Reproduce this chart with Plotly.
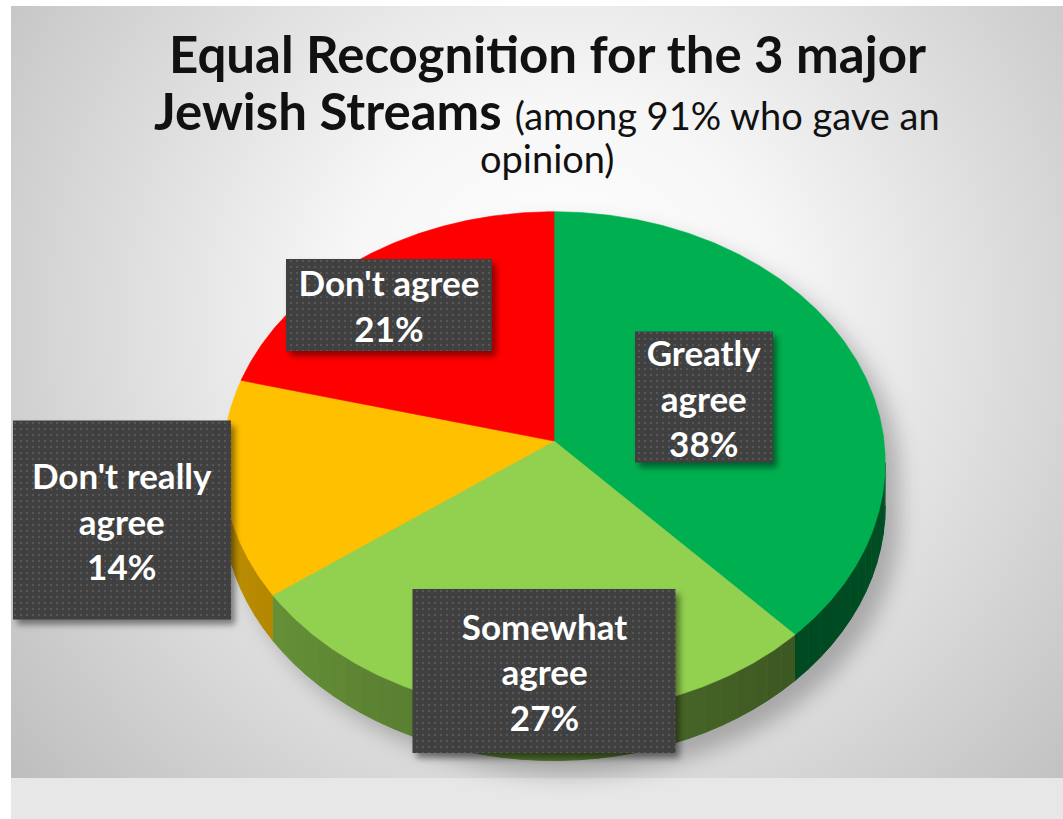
import base64
import numpy as np
import plotly.graph_objects as go

# ---- data -------------------------------------------------------------
categories = ["Greatly agree", "Somewhat agree", "Don't really agree", "Don't agree"]
values = [38, 27, 14, 21]
box_text = ["Greatly<br>agree", "Somewhat<br>agree", "Don't really<br>agree", "Don't agree"]
top_colors = ["#00B050", "#92D050", "#FFC000", "#FF0000"]

title_line1 = "Equal Recognition for the 3 major"
title_line2_bold = "Jewish Streams"
title_line2_rest = "(among 91% who gave an"
title_line3 = "opinion)"

# ---- geometry of the tilted disc (pixel space) ------------------------
W, H = 1063, 819
CX, CY = 554, 441      # projected centre of the disc
RX, RY = 330, 249      # radii of the top face
K = 0.086              # perspective strength (front edge appears larger)
DEPTH = 43             # thickness of the disc

# label boxes: centre x, centre y, width, height
boxes = [(704, 397, 138, 131), (544, 671, 263, 164), (122, 520, 218, 199), (389, 305, 206, 92)]


def rim(theta_deg):
    t = np.radians(np.asarray(theta_deg, dtype=float))
    u, v = np.sin(t), -np.cos(t)
    s = 1.0 / (1.0 - K * v)
    return CX + RX * u * s, CY + RY * v * s, s


def shade(hex_color, f):
    h = hex_color.lstrip("#")
    r, g, b = (int(h[i:i + 2], 16) for i in (0, 2, 4))
    return "#%02x%02x%02x" % (int(r * f), int(g * f), int(b * f))


def side_factor(theta):
    return float(np.interp(theta, [95, 137, 234, 265], [0.45, 0.42, 0.70, 0.78]))


total = float(sum(values))
bounds = np.concatenate([[0.0], np.cumsum(values)]) / total * 360.0
vis_lo = np.degrees(np.arccos(-K))
vis_hi = 360.0 - vis_lo

# ---- background: radial slide gradient + soft drop shadow of the disc --
sx_top, sy_top, _ = rim(np.linspace(vis_hi, 360 + vis_lo, 120))
sx_bot, sy_bot, ss_bot = rim(np.linspace(vis_lo, vis_hi, 120))
sy_bot = sy_bot + DEPTH * ss_bot
pts = list(zip(np.r_[sx_top, sx_bot] + 14, np.r_[sy_top, sy_bot] + 14))
shadow_d = "M" + " L".join(f"{x:.1f},{y:.1f}" for x, y in pts) + " Z"

bg_svg = f"""<svg xmlns="http://www.w3.org/2000/svg" width="{W}" height="{H}" viewBox="0 0 {W} {H}" preserveAspectRatio="none">
<defs>
<radialGradient id="bg" gradientUnits="userSpaceOnUse" cx="560" cy="320" r="720">
<stop offset="0" stop-color="#ffffff"/>
<stop offset="0.3" stop-color="#f7f7f7"/>
<stop offset="1" stop-color="#bdbdbd"/>
</radialGradient>
<filter id="blur" x="-20%" y="-20%" width="140%" height="140%"><feGaussianBlur stdDeviation="11"/></filter>
</defs>
<rect width="{W}" height="{H}" fill="#ffffff"/>
<rect x="11" y="6" width="{W - 11}" height="772" fill="url(#bg)"/>
<rect x="11" y="778" width="{W - 11}" height="{H - 778}" fill="#e7e7e7"/>
<path d="{shadow_d}" fill="#000000" fill-opacity="0.25" filter="url(#blur)"/>
</svg>"""

# ---- label box panels: dotted dark fill with a soft drop shadow --------
panel_parts = []
for bx, by, bw, bh in boxes:
    x0, y0 = bx - bw / 2, by - bh / 2
    panel_parts.append(
        f'<rect x="{x0 + 4}" y="{y0 + 5}" width="{bw}" height="{bh}" fill="#000" '
        f'fill-opacity="0.45" filter="url(#sh)"/>'
        f'<rect x="{x0}" y="{y0}" width="{bw}" height="{bh}" fill="url(#dots)"/>')
panel_svg = f"""<svg xmlns="http://www.w3.org/2000/svg" width="{W}" height="{H}" viewBox="0 0 {W} {H}" preserveAspectRatio="none">
<defs>
<pattern id="dots" patternUnits="userSpaceOnUse" width="6" height="6">
<rect width="6" height="6" fill="#404040"/>
<rect x="2" y="2" width="2" height="2" fill="#575757"/>
</pattern>
<filter id="sh" x="-20%" y="-20%" width="140%" height="140%"><feGaussianBlur stdDeviation="3"/></filter>
</defs>
{''.join(panel_parts)}
</svg>"""


def svg_uri(s):
    return "data:image/svg+xml;base64," + base64.b64encode(s.encode()).decode()


fig = go.Figure()

# ---- side walls (front half of the disc) -------------------------------
for i, cat in enumerate(categories):
    lo, hi = max(bounds[i], vis_lo), min(bounds[i + 1], vis_hi)
    if lo >= hi:
        continue
    n = max(2, int((hi - lo) / 3))
    edges = np.linspace(lo, hi, n + 1)
    for e0, e1 in zip(edges[:-1], edges[1:]):
        ts = np.linspace(e0, e1, 6)
        tx, ty, ts_s = rim(ts)
        bx, by = tx, ty + DEPTH * ts_s
        col = shade(top_colors[i], side_factor((e0 + e1) / 2))
        fig.add_trace(go.Scatter(
            x=np.r_[tx, bx[::-1]], y=np.r_[ty, by[::-1]],
            mode="lines", fill="toself", fillcolor=col,
            line=dict(color=col, width=1), hoverinfo="skip", showlegend=False))

# ---- top faces ---------------------------------------------------------
for i, cat in enumerate(categories):
    ts = np.linspace(bounds[i], bounds[i + 1], max(30, int((bounds[i + 1] - bounds[i]) * 2)))
    tx, ty, _ = rim(ts)
    fig.add_trace(go.Scatter(
        x=np.r_[CX, tx, CX], y=np.r_[CY, ty, CY],
        mode="lines", fill="toself", fillcolor=top_colors[i],
        line=dict(color=top_colors[i], width=0.6),
        name=cat, hoverinfo="skip", showlegend=False))

# ---- data labels -------------------------------------------------------
annotations = []
for (bx, by, bw, bh), txt, val in zip(boxes, box_text, values):
    annotations.append(dict(
        x=bx, y=by, xref="x", yref="y", showarrow=False,
        text=f"<b>{txt}<br>{val}%</b>", width=bw, height=bh,
        bgcolor="rgba(0,0,0,0)", borderpad=0, borderwidth=0,
        align="center", valign="middle",
        font=dict(family="Lato", size=35, color="#ffffff")))

# ---- title -------------------------------------------------------------
title_font = dict(family="Lato", size=51, color="#111111")
annotations += [
    dict(x=547, y=53, xref="x", yref="y", showarrow=False,
         text=f"<b>{title_line1}</b>", font=title_font),
    dict(x=547, y=110, xref="x", yref="y", showarrow=False,
         text=f"<b>{title_line2_bold}</b> <span style='font-size:38px'>{title_line2_rest}</span>",
         font=title_font),
    dict(x=547, y=158, xref="x", yref="y", showarrow=False,
         text=title_line3, font=dict(family="Lato", size=38, color="#111111")),
]

fig.update_layout(
    width=W, height=H, autosize=False,
    margin=dict(l=0, r=0, t=0, b=0, pad=0),
    paper_bgcolor="#ffffff", plot_bgcolor="rgba(0,0,0,0)",
    xaxis=dict(range=[0, W], visible=False, fixedrange=True),
    yaxis=dict(range=[H, 0], visible=False, fixedrange=True),
    showlegend=False,
    annotations=annotations,
    images=[
        dict(source=svg_uri(bg_svg), xref="paper", yref="paper", x=0, y=1,
             sizex=1, sizey=1, xanchor="left", yanchor="top",
             sizing="stretch", layer="below"),
        dict(source=svg_uri(panel_svg), xref="paper", yref="paper", x=0, y=1,
             sizex=1, sizey=1, xanchor="left", yanchor="top",
             sizing="stretch", layer="above"),
    ],
)

fig.write_html("out.html", config={"displayModeBar": False})
